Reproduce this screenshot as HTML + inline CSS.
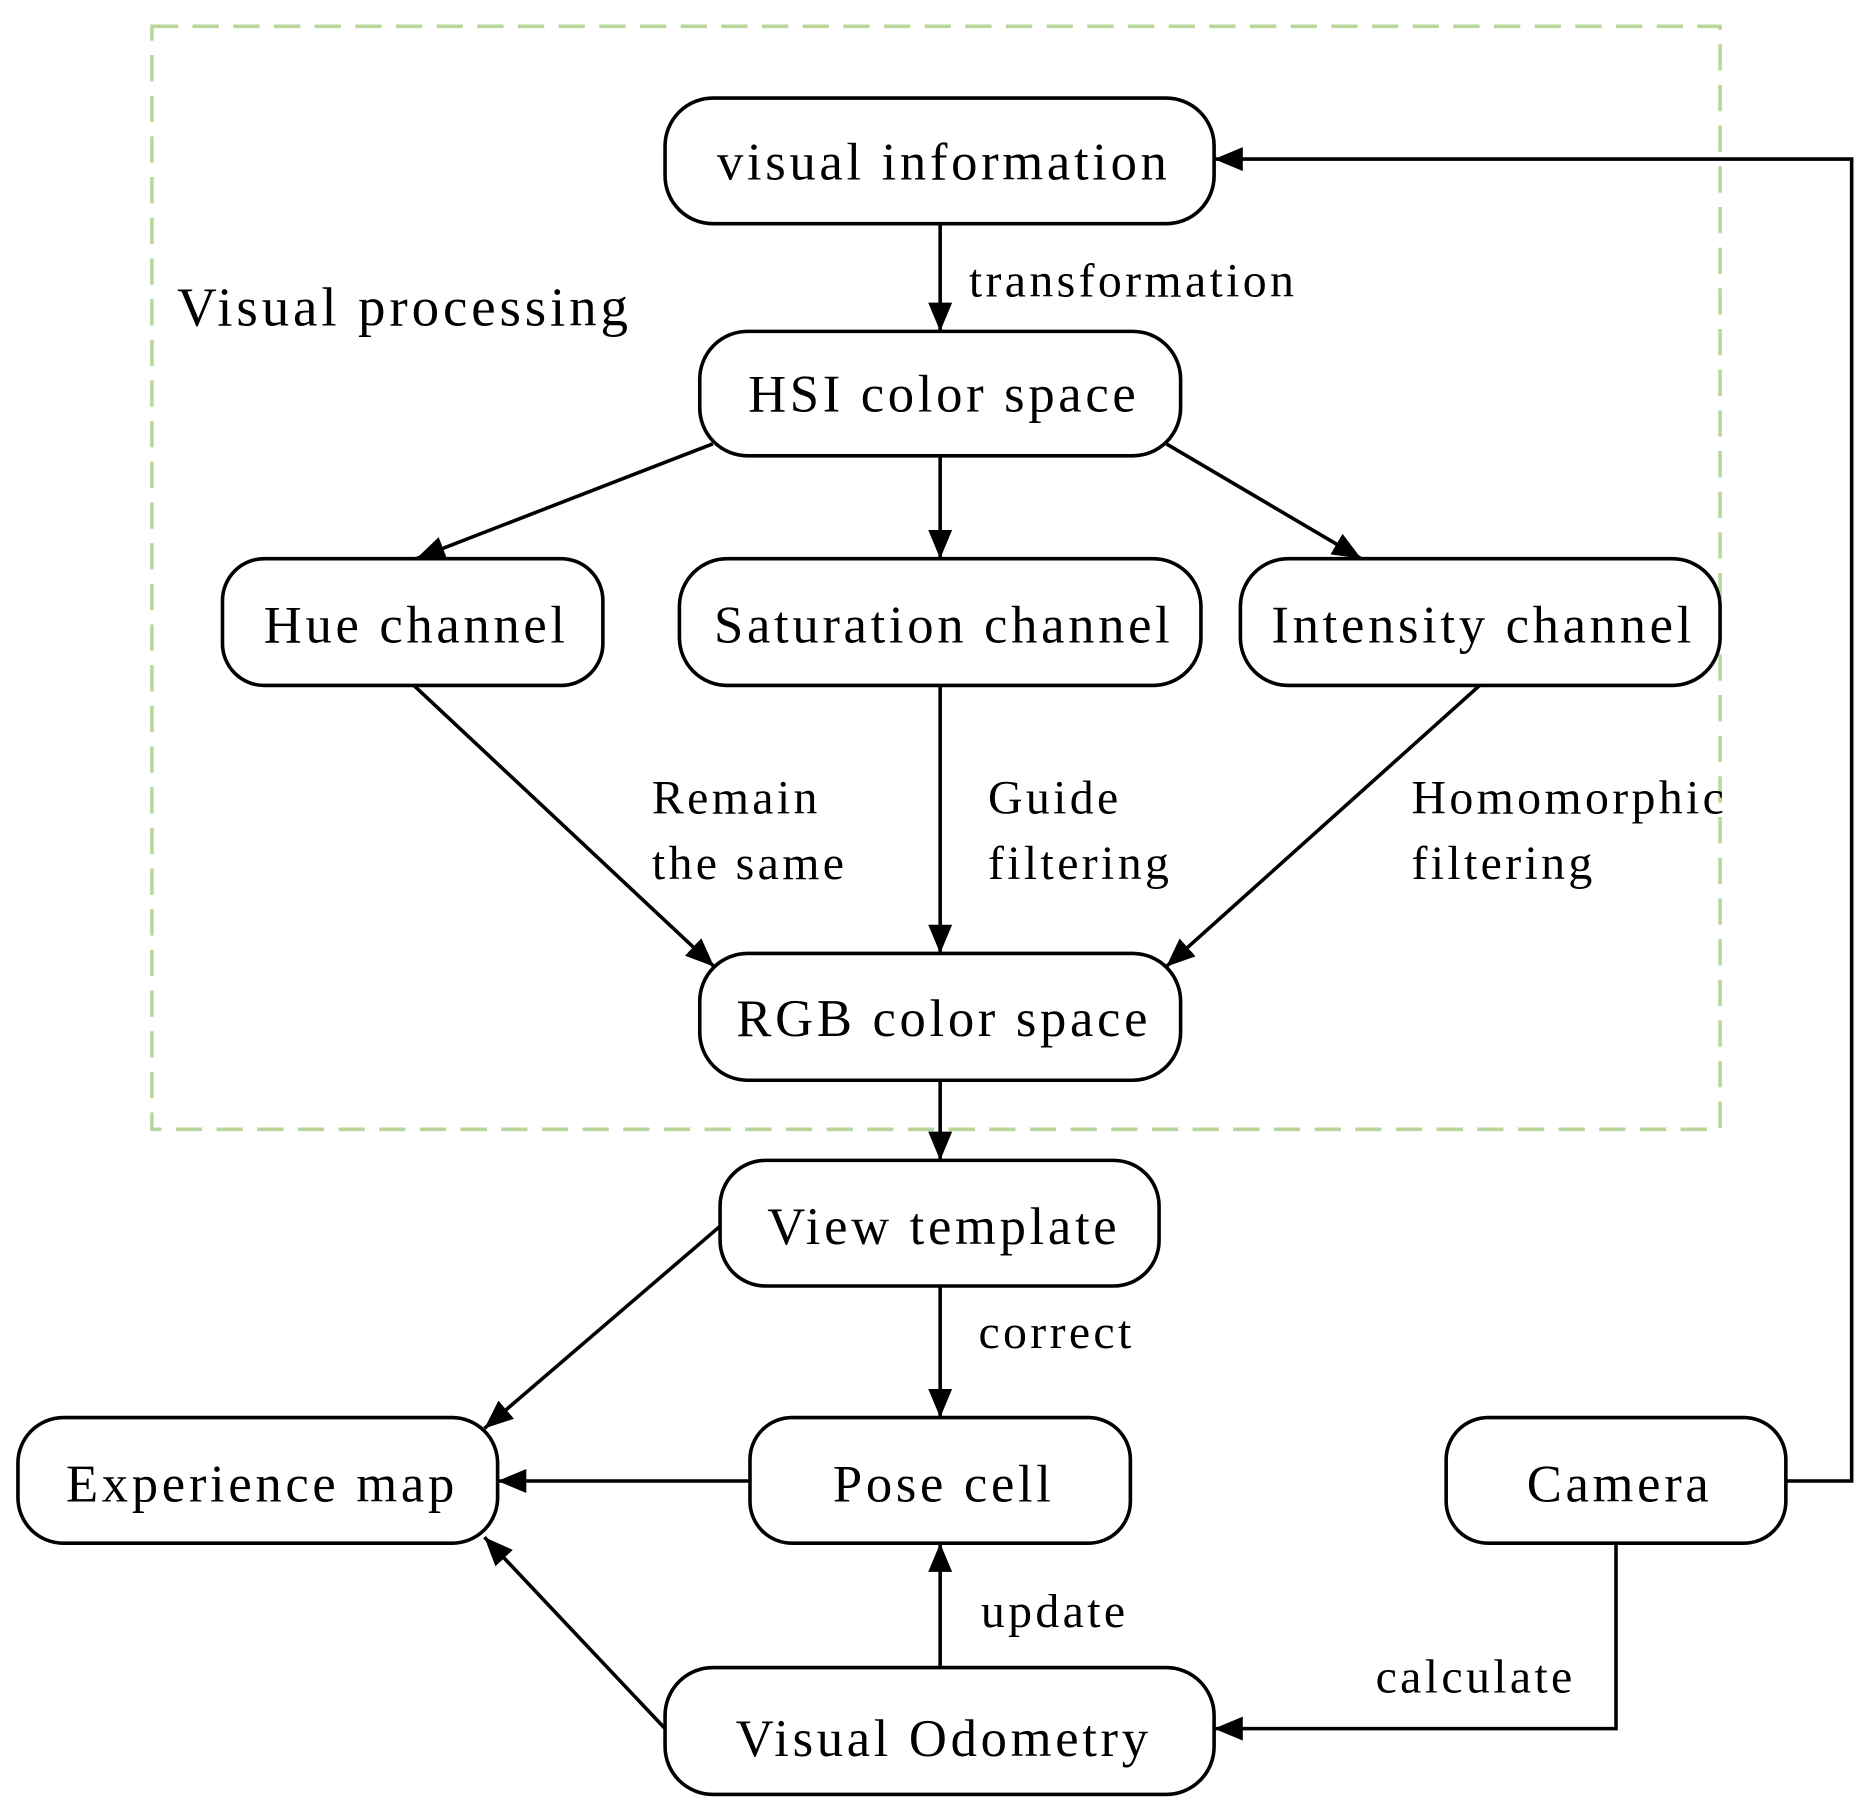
<!DOCTYPE html>
<html><head><meta charset="utf-8"><style>
html,body{margin:0;padding:0;background:#fff;}
svg{display:block;}
text{font-family:"Liberation Serif",serif;fill:#000;letter-spacing:0.07em;}
</style></head><body>
<svg width="1866" height="1798" viewBox="0 0 1560 1503" preserveAspectRatio="none" xmlns="http://www.w3.org/2000/svg">
<defs>
<marker id="ar" viewBox="0 0 12 10" refX="12" refY="5" markerWidth="24" markerHeight="20" markerUnits="userSpaceOnUse" orient="auto"><path d="M0,0 L12,5 L0,10 z" fill="#000"/></marker>
</defs>
<rect x="127" y="22" width="1311" height="922" fill="none" stroke="#b9d79a" stroke-width="3" stroke-dasharray="22,12"/>
<text x="148" y="272" font-size="46">Visual processing</text>

<g fill="#fff" stroke="#000" stroke-width="3">
<rect x="556" y="82" width="459" height="105" rx="40"/>
<rect x="585" y="277" width="402" height="104" rx="40"/>
<rect x="186" y="467" width="318" height="106" rx="35"/>
<rect x="568" y="467" width="436" height="106" rx="40"/>
<rect x="1037" y="467" width="401" height="106" rx="40"/>
<rect x="585" y="797" width="402" height="106" rx="40"/>
<rect x="602" y="970" width="367" height="105" rx="38"/>
<rect x="627" y="1185" width="318" height="105" rx="35"/>
<rect x="15" y="1185" width="401" height="105" rx="38"/>
<rect x="1209" y="1185" width="284" height="105" rx="35"/>
<rect x="556" y="1394" width="459" height="106" rx="40"/>
</g>

<g font-size="44" text-anchor="middle">
<text x="789" y="150">visual information</text>
<text x="789" y="344">HSI color space</text>
<text x="348" y="537">Hue channel</text>
<text x="789" y="537">Saturation channel</text>
<text x="1240" y="537">Intensity channel</text>
<text x="789" y="866">RGB color space</text>
<text x="789" y="1040">View template</text>
<text x="789" y="1255">Pose cell</text>
<text x="219" y="1255">Experience map</text>
<text x="1354" y="1255">Camera</text>
<text x="789" y="1468">Visual Odometry</text>
</g>

<g font-size="40">
<text x="810" y="248">transformation</text>
<text x="545" y="680">Remain</text>
<text x="545" y="735">the same</text>
<text x="826" y="680">Guide</text>
<text x="826" y="735">filtering</text>
<text x="1180" y="680">Homomorphic</text>
<text x="1180" y="735">filtering</text>
<text x="818" y="1127">correct</text>
<text x="820" y="1360">update</text>
<text x="1150" y="1415">calculate</text>
</g>

<g stroke="#000" stroke-width="3" fill="none" marker-end="url(#ar)">
<line x1="786" y1="187" x2="786" y2="277"/>
<line x1="596" y1="371" x2="348" y2="467"/>
<line x1="786" y1="381" x2="786" y2="467"/>
<line x1="975" y1="371" x2="1138" y2="467"/>
<line x1="346" y1="573" x2="597" y2="808"/>
<line x1="786" y1="573" x2="786" y2="797"/>
<line x1="1237" y1="573" x2="975" y2="808"/>
<line x1="786" y1="903" x2="786" y2="970"/>
<line x1="602" y1="1025" x2="405" y2="1194"/>
<line x1="786" y1="1075" x2="786" y2="1185"/>
<line x1="627" y1="1238" x2="416" y2="1238"/>
<line x1="556" y1="1445" x2="405" y2="1285"/>
<line x1="786" y1="1394" x2="786" y2="1290"/>
<polyline points="1493,1238 1548,1238 1548,133 1015,133"/>
<polyline points="1351,1290 1351,1445 1015,1445"/>
</g>
</svg>
</body></html>
